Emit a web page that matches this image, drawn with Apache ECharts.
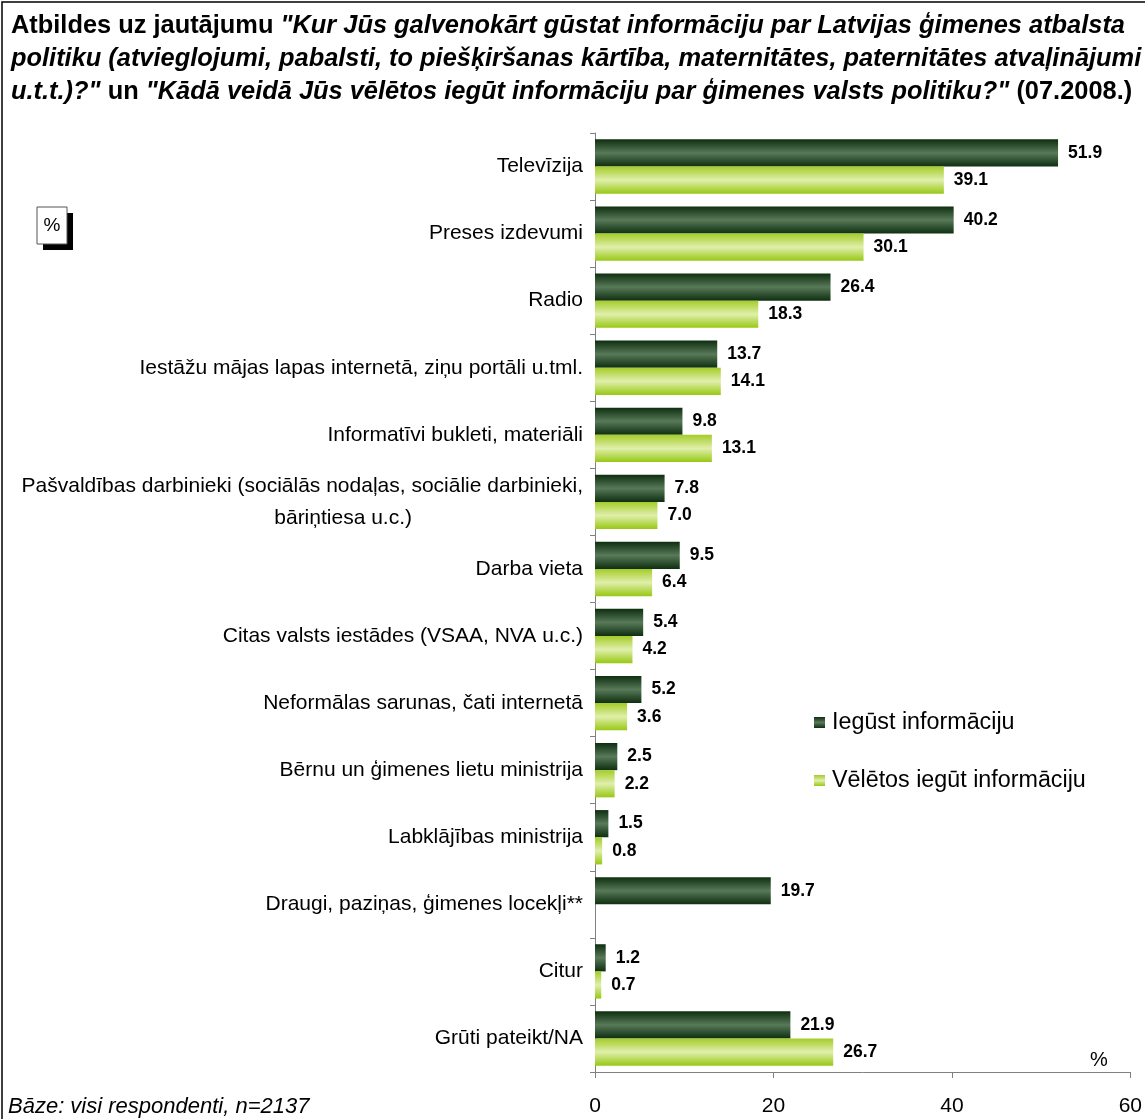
<!DOCTYPE html>
<html>
<head>
<meta charset="utf-8">
<script src="https://cdn.jsdelivr.net/npm/echarts@6/dist/echarts.min.js"></script>
<style>
html,body{margin:0;padding:0;background:#fff;}
#c{width:1145px;height:1119px;}
</style>
</head>
<body>
<div id="c"></div>
<script>
var categories = [
  "Televīzija",
  "Preses izdevumi",
  "Radio",
  "Iestāžu mājas lapas internetā, ziņu portāli u.tml.",
  "Informatīvi bukleti, materiāli",
  "Pašvaldības darbinieki (sociālās nodaļas, sociālie darbinieki,\nbāriņtiesa u.c.)",
  "Darba vieta",
  "Citas valsts iestādes (VSAA, NVA u.c.)",
  "Neformālas sarunas, čati internetā",
  "Bērnu un ģimenes lietu ministrija",
  "Labklājības ministrija",
  "Draugi, paziņas, ģimenes locekļi**",
  "Citur",
  "Grūti pateikt/NA"
];
var seriesNames = ["Iegūst informāciju", "Vēlētos iegūt informāciju"];
var gets = [51.9, 40.2, 26.4, 13.7, 9.8, 7.8, 9.5, 5.4, 5.2, 2.5, 1.5, 19.7, 1.2, 21.9];
var wants = [39.1, 30.1, 18.3, 14.1, 13.1, 7.0, 6.4, 4.2, 3.6, 2.2, 0.8, null, 0.7, 26.7];
var xTicks = [0, 20, 40, 60];

var FONT = '"Liberation Sans", Arial, sans-serif';

var darkGrad = new echarts.graphic.LinearGradient(0, 0, 0, 1, [
  {offset: 0, color: '#0e2e10'},
  {offset: 0.5, color: '#587a58'},
  {offset: 1, color: '#0e2e10'}
]);
var lightGrad = new echarts.graphic.LinearGradient(0, 0, 0, 1, [
  {offset: 0, color: '#a4cc28'},
  {offset: 0.5, color: '#e0efac'},
  {offset: 1, color: '#98c814'}
]);

var chart = echarts.init(document.getElementById('c'), null, {renderer: 'canvas'});

var labelStyle = {
  show: true,
  position: 'right',
  distance: 10,
  fontFamily: FONT,
  fontWeight: 'bold',
  fontSize: 17.5,
  color: '#000',
  formatter: function (p) { return p.value == null ? '' : Number(p.value).toFixed(1); }
};

var option = {
  backgroundColor: '#fff',
  animation: false,
  title: {
    left: 6,
    top: 4,
    text: '{b|Atbildes uz jautājumu }{bi|"Kur Jūs galvenokārt gūstat informāciju par Latvijas ģimenes atbalsta}\n' +
          '{bi|politiku (atvieglojumi, pabalsti, to piešķiršanas kārtība, maternitātes, paternitātes atvaļinājumi}\n' +
          '{bi|u.t.t.)?"}{b| un }{bi|"Kādā veidā Jūs vēlētos iegūt informāciju par ģimenes valsts politiku?"}{b| (07.2008.)}',
    textStyle: {
      rich: {
        b: {fontFamily: FONT, fontWeight: 'bold', fontSize: 25.4, color: '#000', lineHeight: 33},
        bi: {fontFamily: FONT, fontWeight: 'bold', fontStyle: 'italic', fontSize: 25.4, color: '#000', lineHeight: 33}
      }
    }
  },
  legend: {
    orient: 'vertical',
    left: 809,
    top: 706,
    itemWidth: 11,
    itemHeight: 11,
    itemGap: 35,
    icon: 'rect',
    data: seriesNames,
    textStyle: {fontFamily: FONT, fontSize: 23.3, color: '#000', padding: [0, 0, 0, 2]}
  },
  grid: {left: 595, right: 8, top: 133, bottom: 47, containLabel: false},
  xAxis: {
    type: 'value',
    min: 0,
    max: 60,
    interval: 20,
    axisLine: {show: true, lineStyle: {color: '#808080', width: 1}},
    axisTick: {show: true, length: 6, lineStyle: {color: '#808080'}},
    splitLine: {show: false},
    axisLabel: {
      fontFamily: FONT, fontSize: 21, color: '#000', margin: 24,
      formatter: function (v) { return xTicks.indexOf(v) >= 0 ? String(v) : ''; }
    }
  },
  yAxis: {
    type: 'category',
    inverse: true,
    data: categories,
    axisLine: {show: true, lineStyle: {color: '#808080', width: 1}},
    axisTick: {show: true, length: 5, lineStyle: {color: '#808080'}},
    axisLabel: {
      fontFamily: FONT, fontSize: 21, color: '#000', margin: 12, lineHeight: 32,
      formatter: function (v) {
        var parts = v.split('\n');
        if (parts.length === 1) return '{a|' + v + '}';
        return '{a|' + parts[0] + '}\n{c|' + parts[1] + '}';
      },
      rich: {
        a: {fontFamily: FONT, fontSize: 21, color: '#000', lineHeight: 32},
        c: {fontFamily: FONT, fontSize: 21, color: '#000', lineHeight: 32, padding: [0, 171, 0, 0]}
      }
    }
  },
  series: [
    {
      name: seriesNames[0],
      type: 'bar',
      data: gets,
      barGap: '0%',
      barCategoryGap: '19%',
      itemStyle: {color: darkGrad},
      label: labelStyle
    },
    {
      name: seriesNames[1],
      type: 'bar',
      data: wants,
      itemStyle: {color: lightGrad},
      label: labelStyle
    }
  ],
  graphic: [
    {type: 'rect', shape: {x: 2, y: 2, width: 1180, height: 1160}, style: {fill: 'none', stroke: '#000', lineWidth: 1.5}, silent: true},
    {type: 'rect', shape: {x: 43, y: 213, width: 30, height: 37}, style: {fill: '#000'}, silent: true},
    {type: 'rect', shape: {x: 37, y: 207, width: 30, height: 37}, style: {fill: '#fff', stroke: '#555', lineWidth: 1}, silent: true},
    {type: 'text', x: 52, y: 226, style: {text: '%', fontFamily: FONT, fontSize: 19, fill: '#000', textAlign: 'center', textVerticalAlign: 'middle'}, silent: true},
    {type: 'text', x: 1090, y: 1060, style: {text: '%', fontFamily: FONT, fontSize: 20, fill: '#000', textAlign: 'left', textVerticalAlign: 'middle'}, silent: true},
    {type: 'text', x: 8, y: 1107, style: {text: 'Bāze: visi respondenti, n=2137', fontFamily: FONT, fontStyle: 'italic', fontSize: 22, fill: '#000', textAlign: 'left', textVerticalAlign: 'middle'}, silent: true}
  ]
};
chart.setOption(option);
</script>
</body>
</html>
